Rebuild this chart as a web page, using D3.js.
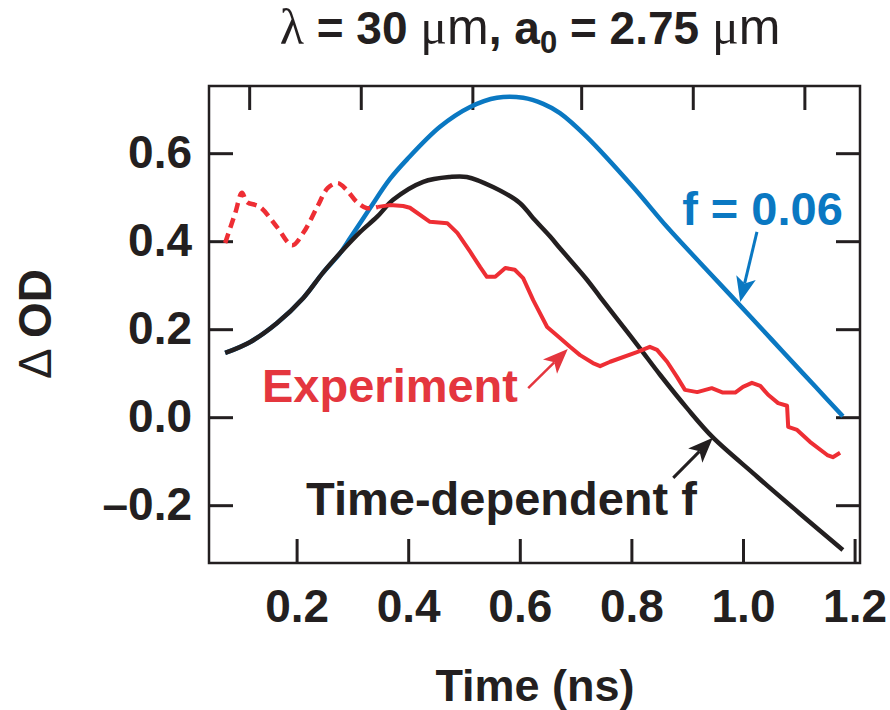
<!DOCTYPE html>
<html>
<head>
<meta charset="utf-8">
<script src="https://cdn.jsdelivr.net/npm/d3@7"></script>
<style>
  body { margin: 0; background: #fff; }
  svg { display: block; }
  text { font-family: "Liberation Sans", Arial, Helvetica, sans-serif; }
</style>
</head>
<body>
<svg id="chart" width="890" height="710"></svg>
<script>
// ---- Axis ticks -----------------------------------------------------------
const xTicks = [0.2, 0.4, 0.6, 0.8, 1.0, 1.2];
const xTickLabels = ["0.2", "0.4", "0.6", "0.8", "1.0", "1.2"];
const xTopTicks = [0.115, 0.315, 0.515, 0.71, 0.91, 1.11];
const yTicks = [-0.2, 0.0, 0.2, 0.4, 0.6];
const yTickLabels = ["\u20130.2", "0.0", "0.2", "0.4", "0.6"];

// ---- Series: [time (ns), ΔOD] ---------------------------------------------
// Model with constant f = 0.06
const fConst = [
  [0.072, 0.146], [0.117, 0.171], [0.165, 0.214], [0.212, 0.271], [0.247, 0.328],
  [0.278, 0.373], [0.296, 0.407], [0.332, 0.476], [0.367, 0.541], [0.398, 0.586],
  [0.457, 0.660], [0.511, 0.705], [0.559, 0.726], [0.606, 0.726], [0.642, 0.712],
  [0.672, 0.691], [0.720, 0.637], [0.803, 0.523], [0.864, 0.432], [0.923, 0.351],
  [0.977, 0.278], [1.016, 0.225], [1.043, 0.188], [1.072, 0.148], [1.130, 0.069],
  [1.179, 0.002]
];
// Model with time-dependent f
const fTimeDep = [
  [0.072, 0.146], [0.117, 0.171], [0.165, 0.214], [0.212, 0.271], [0.247, 0.328],
  [0.278, 0.373], [0.314, 0.421], [0.344, 0.455], [0.373, 0.494], [0.427, 0.535],
  [0.475, 0.546], [0.505, 0.546], [0.552, 0.523], [0.600, 0.487], [0.624, 0.452],
  [0.654, 0.411], [0.672, 0.384], [0.720, 0.313], [0.744, 0.273], [0.774, 0.224],
  [0.815, 0.157], [0.851, 0.097], [0.900, 0.020], [0.946, -0.046], [1.018, -0.127],
  [1.043, -0.155], [1.100, -0.217], [1.179, -0.302]
];
// Measured ΔOD, early (uncertain) part
const expEarly = [
  [0.072, 0.396], [0.090, 0.464], [0.102, 0.510], [0.111, 0.489], [0.134, 0.478],
  [0.165, 0.432], [0.192, 0.391], [0.212, 0.419], [0.237, 0.478], [0.256, 0.521],
  [0.274, 0.532], [0.290, 0.516], [0.308, 0.489], [0.326, 0.475], [0.346, 0.478]
];
// Measured ΔOD
const expMain = [
  [0.346, 0.478], [0.367, 0.482], [0.391, 0.480], [0.403, 0.476], [0.439, 0.444],
  [0.470, 0.441], [0.488, 0.419], [0.511, 0.376], [0.529, 0.341], [0.541, 0.319],
  [0.556, 0.319], [0.574, 0.339], [0.591, 0.335], [0.606, 0.316], [0.624, 0.266],
  [0.649, 0.205], [0.672, 0.180], [0.690, 0.160], [0.708, 0.141], [0.731, 0.123],
  [0.744, 0.116], [0.762, 0.126], [0.810, 0.148], [0.833, 0.160], [0.846, 0.153],
  [0.864, 0.126], [0.882, 0.091], [0.896, 0.062], [0.918, 0.057], [0.944, 0.066],
  [0.964, 0.056], [0.986, 0.056], [1.000, 0.069], [1.016, 0.078], [1.031, 0.071],
  [1.045, 0.051], [1.063, 0.032], [1.079, 0.026], [1.081, -0.022], [1.097, -0.029],
  [1.120, -0.056], [1.151, -0.086], [1.161, -0.091], [1.174, -0.081]
];

// ---- Annotations (data coordinates) ---------------------------------------
const annotations = [
  { text: "f = 0.06", color: "#0a78c2", at: [0.891, 0.437],
    tail: [1.025, 0.421], tip: [0.995, 0.262], width: 3 },
  { text: "Experiment", color: "#e4363e", at: [0.138, 0.035],
    tail: [0.615, 0.066], tip: [0.686, 0.155], width: 2.5 },
  { text: "Time-dependent f", color: "#231f20", at: [0.217, -0.222],
    tail: [0.875, -0.138], tip: [0.946, -0.047], width: 3 }
];

// ---- Layout ----------------------------------------------------------------
const plot = { left: 209, top: 86, right: 860, bottom: 563 };
const ink = "#231f20";
const svg = d3.select("#chart");

const x = d3.scaleLinear().domain([0.043, 1.2097]).range([plot.left, plot.right]);
const y = d3.scaleLinear().domain([-0.3314, 0.7527]).range([plot.bottom, plot.top]);

// Title
const title = svg.append("text")
  .attr("x", 530).attr("y", 44)
  .attr("text-anchor", "middle")
  .attr("font-size", 46).attr("font-weight", "bold")
  .attr("fill", ink)
  .style("white-space", "pre");
const serif = "'Liberation Serif', 'Times New Roman', serif";
const unitSize = 50;
title.append("tspan").attr("font-family", serif).attr("font-weight", "normal")
  .attr("font-size", unitSize).text("\u03bb");
title.append("tspan").text(" = 30 ");
title.append("tspan").attr("font-family", serif).attr("font-weight", "normal")
  .attr("font-size", unitSize).text("\u03bc");
title.append("tspan").attr("font-weight", "normal").attr("font-size", unitSize).text("m");
title.append("tspan").text(", a");
title.append("tspan").attr("font-size", 31).attr("dy", 9).text("0");
title.append("tspan").attr("dy", -9).text(" = 2.75 ");
title.append("tspan").attr("font-family", serif).attr("font-weight", "normal")
  .attr("font-size", unitSize).text("\u03bc");
title.append("tspan").attr("font-weight", "normal").attr("font-size", unitSize).text("m");

// Axes (ticks point inward)
const tickLen = 24;
const fmtX = d => xTickLabels[xTicks.indexOf(d)];
const fmtY = d => yTickLabels[yTicks.indexOf(d)];

function styleAxis(g) {
  g.select(".domain").remove();
  g.selectAll(".tick line").attr("stroke", ink).attr("stroke-width", 3);
  g.selectAll(".tick text")
    .attr("fill", ink).attr("font-size", 46).attr("font-weight", "bold")
    .attr("font-family", "'Liberation Sans', Arial, sans-serif");
}

svg.append("g").attr("transform", `translate(0,${plot.bottom})`)
  .call(d3.axisBottom(x).tickValues(xTicks).tickFormat(fmtX)
    .tickSizeInner(-tickLen).tickSizeOuter(0).tickPadding(26))
  .call(styleAxis);

svg.append("g").attr("transform", `translate(0,${plot.top})`)
  .call(d3.axisTop(x).tickValues(xTopTicks).tickFormat("")
    .tickSizeInner(-tickLen).tickSizeOuter(0))
  .call(styleAxis);

svg.append("g").attr("transform", `translate(${plot.left},0)`)
  .call(d3.axisLeft(y).tickValues(yTicks).tickFormat(fmtY)
    .tickSizeInner(-tickLen).tickSizeOuter(0).tickPadding(17))
  .call(styleAxis);

svg.append("g").attr("transform", `translate(${plot.right},0)`)
  .call(d3.axisRight(y).tickValues(yTicks).tickFormat("")
    .tickSizeInner(-tickLen).tickSizeOuter(0))
  .call(styleAxis);

// Frame
svg.append("rect")
  .attr("x", plot.left).attr("y", plot.top)
  .attr("width", plot.right - plot.left).attr("height", plot.bottom - plot.top)
  .attr("fill", "none").attr("stroke", ink).attr("stroke-width", 2.5);

// Axis titles
svg.append("text")
  .attr("x", 535).attr("y", 701)
  .attr("text-anchor", "middle")
  .attr("font-size", 45).attr("font-weight", "bold").attr("fill", ink)
  .text("Time (ns)");

const yTitle = svg.append("text")
  .attr("transform", "translate(51,324) rotate(-90)")
  .attr("text-anchor", "middle")
  .attr("font-size", 46).attr("font-weight", "bold").attr("fill", ink)
  .style("white-space", "pre");
yTitle.append("tspan").attr("font-weight", "normal").text("\u0394 ");
yTitle.append("tspan").text("OD");

// Curves
const smooth = d3.line().x(d => x(d[0])).y(d => y(d[1])).curve(d3.curveCatmullRom.alpha(0.5));
const jagged = d3.line().x(d => x(d[0])).y(d => y(d[1])).curve(d3.curveLinear);

svg.append("path").datum(fConst)
  .attr("d", smooth).attr("fill", "none")
  .attr("stroke", "#0a78c2").attr("stroke-width", 4.5).attr("stroke-linejoin", "round");

svg.append("path").datum(fTimeDep)
  .attr("d", smooth).attr("fill", "none")
  .attr("stroke", ink).attr("stroke-width", 4.5).attr("stroke-linejoin", "round");

svg.append("path").datum(expEarly)
  .attr("d", smooth).attr("fill", "none")
  .attr("stroke", "#ee2e34").attr("stroke-width", 4.5)
  .attr("stroke-dasharray", "10,6");

svg.append("path").datum(expMain)
  .attr("d", jagged).attr("fill", "none")
  .attr("stroke", "#ee2e34").attr("stroke-width", 4).attr("stroke-linejoin", "round");

// Labels with arrows
annotations.forEach(a => {
  svg.append("text")
    .attr("x", x(a.at[0])).attr("y", y(a.at[1]))
    .attr("font-size", 47).attr("font-weight", "bold").attr("fill", a.color)
    .text(a.text);

  const x0 = x(a.tail[0]), y0 = y(a.tail[1]);
  const x1 = x(a.tip[0]), y1 = y(a.tip[1]);
  const dx = x1 - x0, dy = y1 - y0, len = Math.hypot(dx, dy);
  const ux = dx / len, uy = dy / len, px = -uy, py = ux;
  const headLen = 25, half = 10, notch = 19;
  const bx = x1 - ux * headLen, by = y1 - uy * headLen;
  const nx = x1 - ux * notch, ny = y1 - uy * notch;

  svg.append("line")
    .attr("x1", x0).attr("y1", y0).attr("x2", nx).attr("y2", ny)
    .attr("stroke", a.color).attr("stroke-width", a.width);
  svg.append("path")
    .attr("d", `M${x1},${y1} L${bx + px * half},${by + py * half} L${nx},${ny} L${bx - px * half},${by - py * half} Z`)
    .attr("fill", a.color);
});
</script>
</body>
</html>
